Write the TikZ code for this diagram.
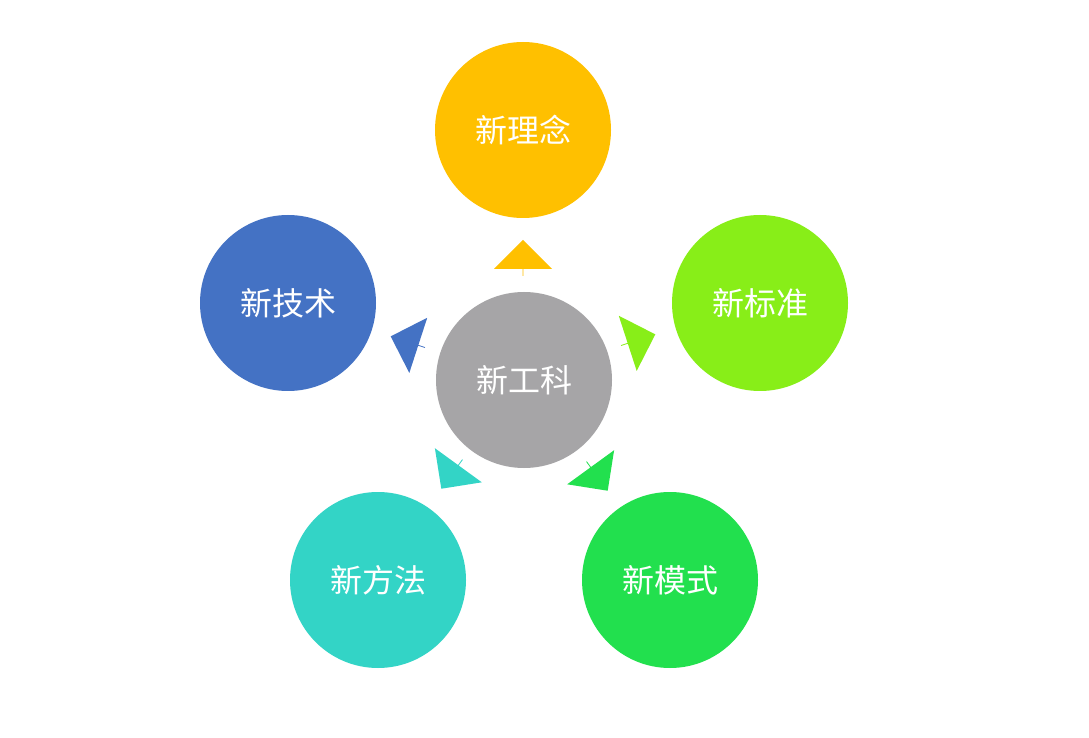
\documentclass[tikz,border=0pt]{standalone}
\usepackage{fontspec}
\newfontfamily\cjk{Noto Sans CJK SC}
\usetikzlibrary{shapes.arrows}
\definecolor{cgray}{HTML}{A6A5A7}
\definecolor{cyel}{HTML}{FFC000}
\definecolor{cblue}{HTML}{4472C4}
\definecolor{clg}{HTML}{88EE18}
\definecolor{cteal}{HTML}{33D4C6}
\definecolor{cgreen}{HTML}{22E04E}
\tikzset{
 ball/.style={circle,minimum size=176pt,inner sep=0pt,text=white,font=\cjk\fontsize{32}{36}\selectfont},
 arr/.style={single arrow,minimum height=36pt,minimum width=58pt,single arrow head extend=14pt,inner sep=0pt,draw=none}
}
\begin{document}
\begin{tikzpicture}[x=1pt,y=1pt]
\useasboundingbox[fill=white] (0,0) rectangle (1089,737);
\node[ball,fill=cgray] (c) at (524,357) {新工科};
\node[ball,fill=cyel] (t) at (523,607) {新理念};
\node[ball,fill=cblue] (l) at (288,434) {新技术};
\node[ball,fill=clg] (r) at (760,434) {新标准};
\node[ball,fill=cteal] (bl) at (378,157) {新方法};
\node[ball,fill=cgreen] (br) at (670,157) {新模式};
\node[arr,fill=cyel,rotate=90] (a1) at (523,479) {};
\node[arr,fill=cblue,rotate=162] (a2) at (408,395) {};
\node[arr,fill=clg,rotate=18] (a3) at (638,397) {};
\node[arr,fill=cteal,rotate=234] (a4) at (452,263) {};
\node[arr,fill=cgreen,rotate=306] (a5) at (597,261) {};
\end{tikzpicture}
\end{document}
